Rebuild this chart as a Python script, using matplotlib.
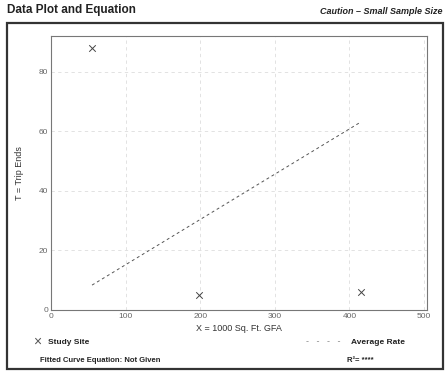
import matplotlib
matplotlib.use("Agg")
import matplotlib.pyplot as plt
from matplotlib.patches import Rectangle

plt.rcParams["font.family"] = ["Liberation Sans", "DejaVu Sans"]

# data
site_x = [55, 199, 415]        # X = 1000 Sq. Ft. GFA
site_t = [88, 5, 6]            # T = Trip Ends
avg_rate = 0.152
x_ticks = [0, 100, 200, 300, 400, 500]
y_ticks = [0, 20, 40, 60, 80]

W, H = 445, 375
fig = plt.figure(figsize=(W / 100, H / 100), dpi=100)

# outer frame
fig.patches.append(Rectangle((7 / W, 6 / H), 436 / W, (369 - 23) / H,
                             transform=fig.transFigure, fill=False,
                             edgecolor="#333333", linewidth=1.6))

fig.text(7 / W, 1 - 10 / H, "Data Plot and Equation", fontsize=8.5,
         fontweight="bold", va="center", ha="left", color="#222222")
fig.text(443 / W, 1 - 11 / H, "Caution – Small Sample Size", fontsize=6.5,
         fontweight="bold", style="italic", va="center", ha="right", color="#222222")

ax = fig.add_axes([51 / W, 1 - 310 / H, 376 / W, 274 / H])
ax.set_xlim(0, 504)
ax.set_ylim(0, 92)

ax.scatter(site_x, site_t, marker="x", s=22, color="#444444", linewidths=0.7, zorder=3)
lx = [min(site_x), max(site_x)]
ax.plot(lx, [v * avg_rate for v in lx], linestyle=(0, (3, 3)), color="#555555",
        linewidth=0.7, zorder=2)

ax.set_xticks(x_ticks)
ax.set_yticks(y_ticks)
ax.tick_params(labelsize=6, colors="#666666", length=0, pad=2)
ax.grid(True, linestyle=(0, (4, 4)), color="#dddddd", linewidth=0.6)
ax.set_axisbelow(True)
for s in ax.spines.values():
    s.set_color("#777777")
    s.set_linewidth(0.8)

ax.set_xlabel("X = 1000 Sq. Ft. GFA", fontsize=6.5, color="#333333", labelpad=3)
ax.set_ylabel("T = Trip Ends", fontsize=6.5, color="#333333", labelpad=11)

# legend / footer
fig.text(37 / W, 1 - 342 / H, "×", fontsize=10, color="#555555", va="center", ha="center")
fig.text(48 / W, 1 - 342 / H, "Study Site", fontsize=6, fontweight="bold",
         va="center", ha="left", color="#222222")
fig.text(306 / W, 1 - 341 / H, "-   -   -   -", fontsize=6.5, color="#888888",
         va="center", ha="left")
fig.text(351 / W, 1 - 342 / H, "Average Rate", fontsize=6, fontweight="bold",
         va="center", ha="left", color="#222222")
fig.text(40 / W, 1 - 361 / H, "Fitted Curve Equation: Not Given", fontsize=5.5,
         fontweight="bold", va="center", ha="left", color="#222222")
fig.text(347 / W, 1 - 361 / H, "R²= ****", fontsize=5.5, fontweight="bold",
         va="center", ha="left", color="#222222")

fig.savefig("out.png", dpi=100)
